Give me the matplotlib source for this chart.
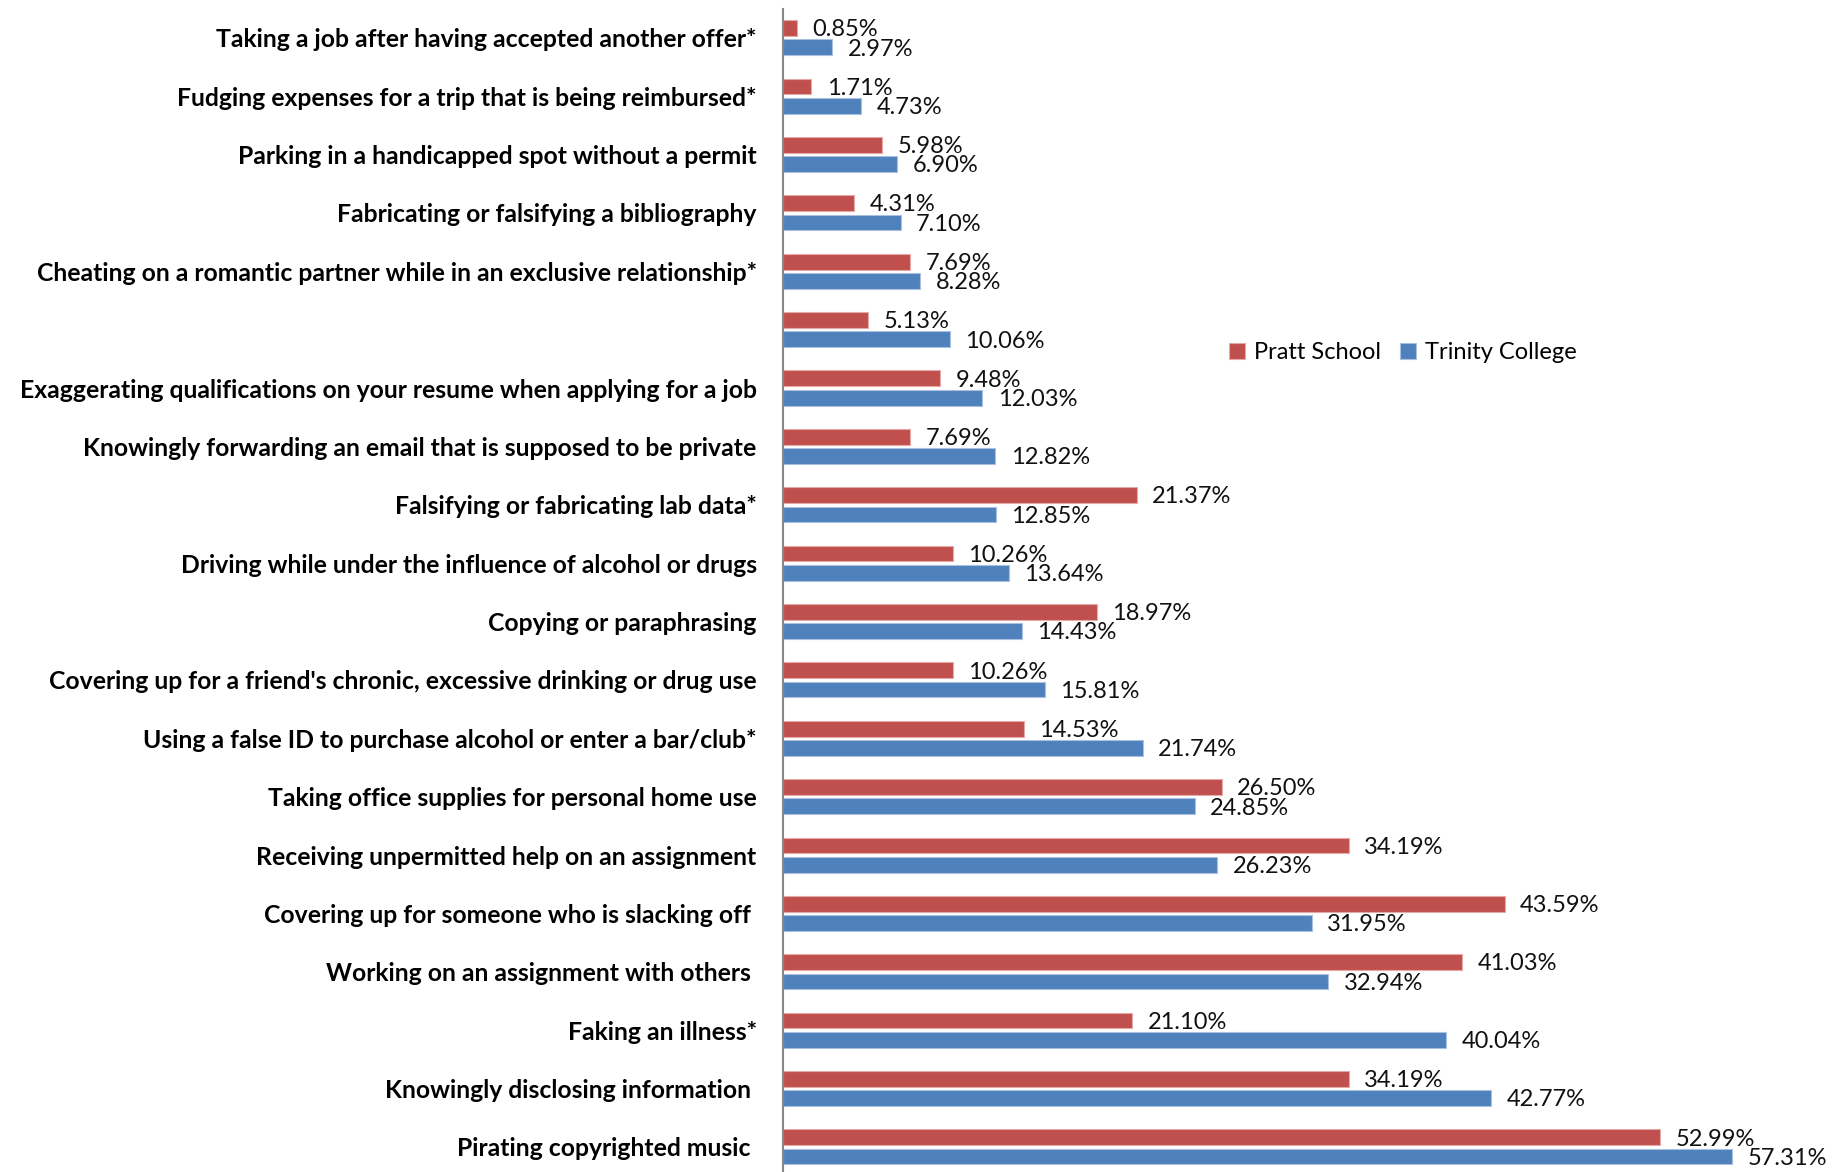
import matplotlib.pyplot as plt
import numpy as np

plt.rcParams['font.family'] = ['Lato', 'DejaVu Sans']

categories = [
    "Taking a job after having accepted another offer*",
    "Fudging expenses for a trip that is being reimbursed*",
    "Parking in a handicapped spot without a permit",
    "Fabricating or falsifying a bibliography",
    "Cheating on a romantic partner while in an exclusive relationship*",
    "",
    "Exaggerating qualifications on your resume when applying for a job",
    "Knowingly forwarding an email that is supposed to be private",
    "Falsifying or fabricating lab data*",
    "Driving while under the influence of alcohol or drugs",
    "Copying or paraphrasing",
    "Covering up for a friend's chronic, excessive drinking or drug use",
    "Using a false ID to purchase alcohol or enter a bar/club*",
    "Taking office supplies for personal home use",
    "Receiving unpermitted help on an assignment",
    "Covering up for someone who is slacking off ",
    "Working on an assignment with others ",
    "Faking an illness*",
    "Knowingly disclosing information ",
    "Pirating copyrighted music ",
]
pratt = [0.85, 1.71, 5.98, 4.31, 7.69, 5.13, 9.48, 7.69, 21.37, 10.26,
         18.97, 10.26, 14.53, 26.50, 34.19, 43.59, 41.03, 21.10, 34.19, 52.99]
trinity = [2.97, 4.73, 6.90, 7.10, 8.28, 10.06, 12.03, 12.82, 12.85, 13.64,
           14.43, 15.81, 21.74, 24.85, 26.23, 31.95, 32.94, 40.04, 42.77, 57.31]

red = '#C0504D'
blue = '#4F81BD'

fig = plt.figure(figsize=(18.46, 11.72), dpi=100)
ax = fig.add_axes([0.4242, -0.0035, 0.5758, 0.9962])

y = np.arange(len(categories))
h = 0.27
off = 0.165
ax.barh(y - off, pratt, height=h, color=red, edgecolor='#E6A9A7', linewidth=0.8, label='Pratt School')
ax.barh(y + off, trinity, height=h, color=blue, edgecolor='#A9C0E0', linewidth=0.8, label='Trinity College')

# percentage labels just past the end of each bar
for yi, v in zip(y, pratt):
    ax.annotate(f"{v:.2f}%", (v, yi - off + 0.03), xytext=(11, 0), textcoords='offset points',
                va='center', ha='left', fontsize=17, color='#111111')
for yi, v in zip(y, trinity):
    ax.annotate(f"{v:.2f}%", (v, yi + off + 0.03), xytext=(11, 0), textcoords='offset points',
                va='center', ha='left', fontsize=17, color='#111111')

ax.set_ylim(len(categories) - 0.5, -0.5)
ax.set_xlim(0, 64.2)
ax.set_yticks(y)
ax.set_yticklabels(categories, fontsize=17.8, fontweight='bold')
ax.tick_params(axis='y', length=0, pad=19)
ax.set_xticks([])

for s in ['top', 'right', 'bottom']:
    ax.spines[s].set_visible(False)
ax.spines['left'].set_color('#868686')
ax.spines['left'].set_linewidth(1.5)

ax.legend(loc='center left', bbox_to_anchor=(0.4, 0.705), ncol=2, frameon=False,
          fontsize=17, handlelength=0.65, handleheight=0.65, handletextpad=0.4, columnspacing=0.8)

fig.savefig('out.png', dpi=100)
